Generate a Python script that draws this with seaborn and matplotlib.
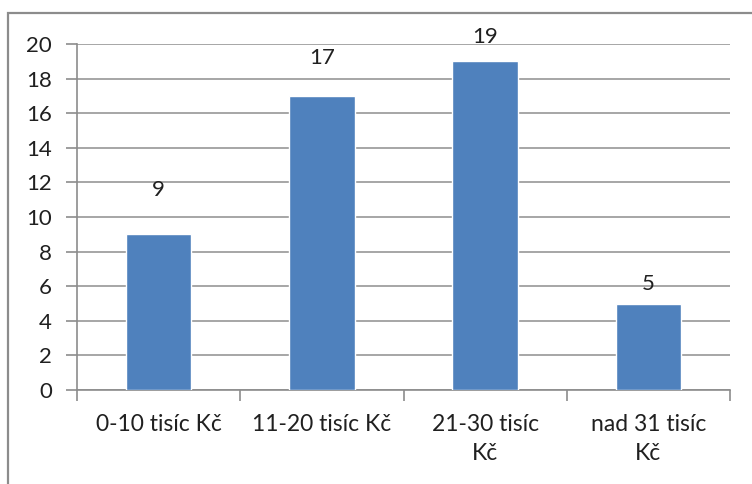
import matplotlib
matplotlib.use("Agg")
import matplotlib.pyplot as plt
import seaborn as sns
import pandas as pd
from matplotlib.patches import Rectangle

categories = ["0-10 tisíc Kč", "11-20 tisíc Kč", "21-30 tisíc\nKč", "nad 31 tisíc\nKč"]
counts = [9, 17, 19, 5]
yticks = [0, 2, 4, 6, 8, 10, 12, 14, 16, 18, 20]
# vertical lift of each value label above its bar (data units)
label_lift = [2.0, 1.6, 0.85, 0.55]

sns.set_theme(style="white")
plt.rcParams["font.family"] = ["Lato", "DejaVu Sans"]

df = pd.DataFrame({"kategorie": categories, "pocet": counts})

fig = plt.figure(figsize=(7.52, 4.84), dpi=100)
ax = fig.add_axes([77 / 752, 1 - 390 / 484, (730 - 77) / 752, (390 - 44) / 484])

sns.barplot(data=df, x="kategorie", y="pocet", color="#4F81BD", width=0.4,
            saturation=1, ax=ax, zorder=3)

ax.set_ylim(0, 20)
ax.set_xlim(-0.5, len(categories) - 0.5)
ax.set_yticks(yticks)
ax.set_yticklabels([str(t) for t in yticks])
ax.yaxis.grid(True, color="#a6a6a6", linewidth=1.4)
ax.set_axisbelow(True)
ax.set_xlabel("")
ax.set_ylabel("")

for s in ["top", "right"]:
    ax.spines[s].set_visible(False)
for s in ["left", "bottom"]:
    ax.spines[s].set_color("#8c8c8c")
    ax.spines[s].set_linewidth(1.2)

# category ticks sit on the boundaries between categories
ax.set_xticks([i for i in range(len(categories))])
ax.set_xticklabels(categories, fontsize=16.5, color="#202020", linespacing=1.5)
ax.tick_params(axis="x", length=0, pad=17)
ax.set_xticks([i - 0.5 for i in range(len(categories) + 1)], minor=True)
ax.tick_params(axis="x", which="minor", length=8, width=1.2, color="#8c8c8c", direction="out")
ax.tick_params(axis="y", length=8, width=1.2, color="#8c8c8c", direction="out",
               labelsize=16, labelcolor="#202020", pad=10)
ax.yaxis.set_ticks_position("left")
ax.xaxis.set_ticks_position("bottom")

for i, v in enumerate(counts):
    ax.text(i, v + label_lift[i], str(v), ha="center", va="bottom",
            fontsize=16, color="#202020", clip_on=False)

# outer chart-area frame
frame = Rectangle((8 / 752, -0.1), 2.0, 1 - 13 / 484 + 0.1, transform=fig.transFigure,
                  fill=False, edgecolor="#8c8c8c", linewidth=1.6)
fig.add_artist(frame)

fig.savefig("out.png", dpi=100, facecolor="white")
